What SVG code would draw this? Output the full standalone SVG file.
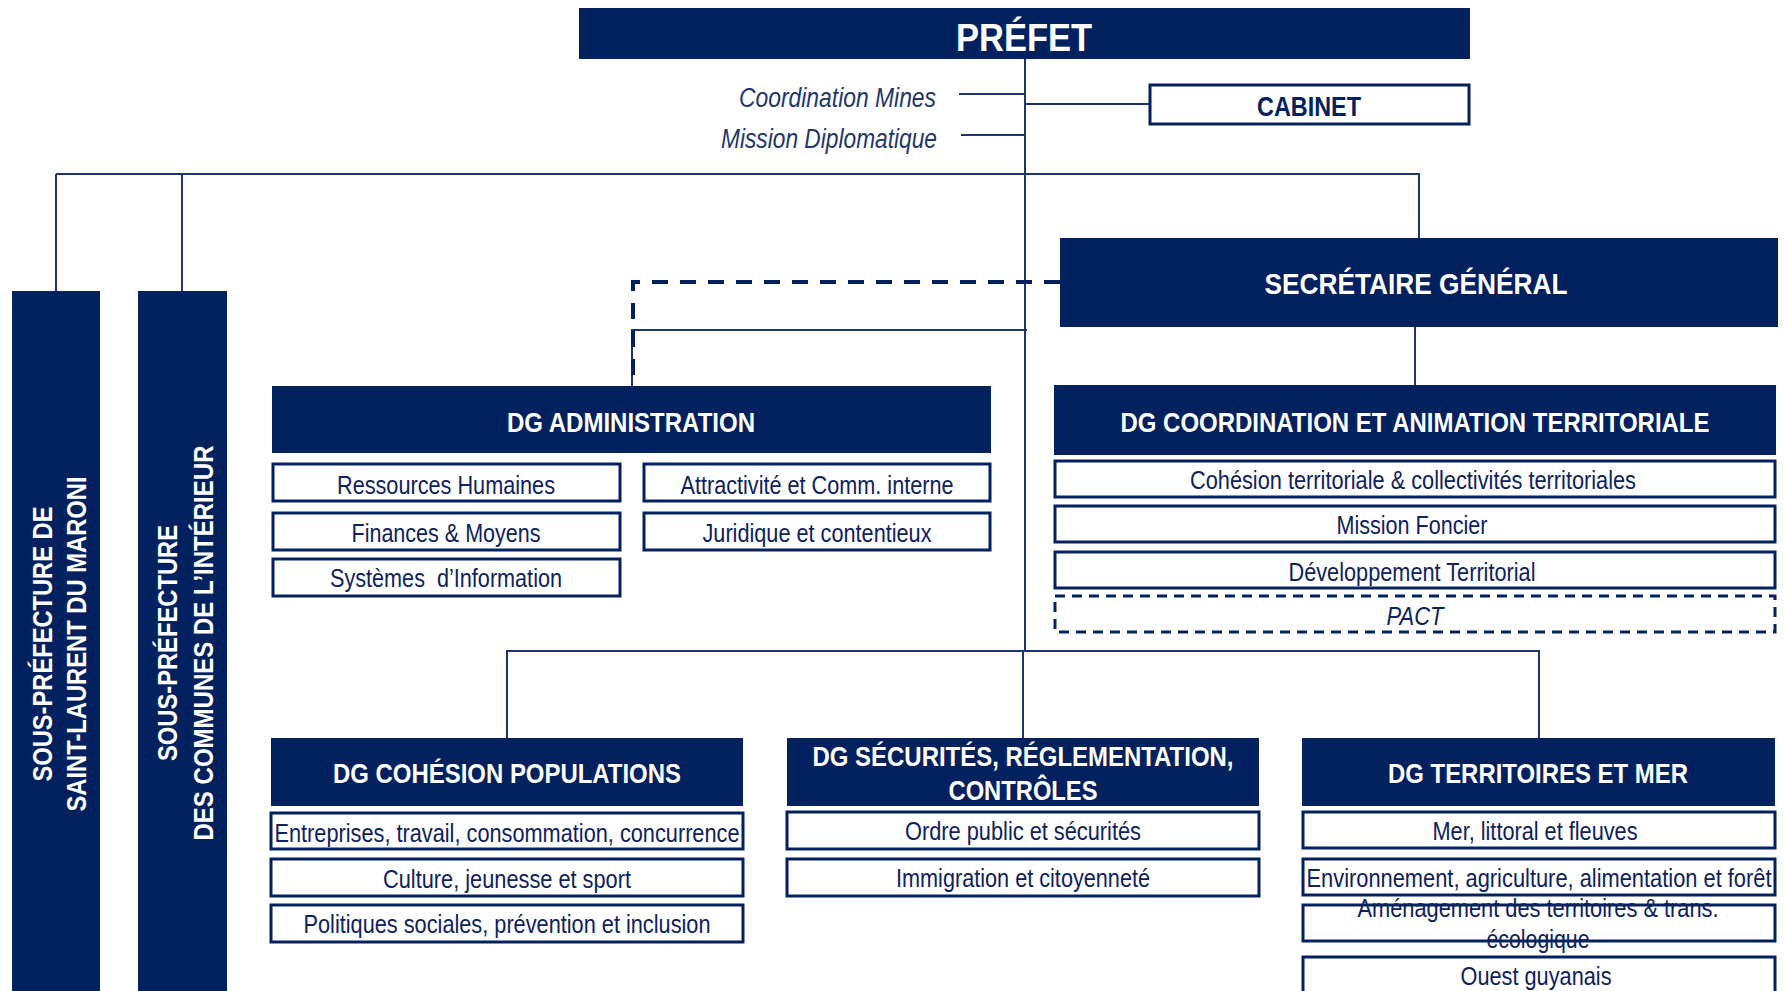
<svg xmlns="http://www.w3.org/2000/svg" width="1784" height="991" viewBox="0 0 1784 991">
<style>
.dark{fill:#03215e;}
.sub{fill:#ffffff;stroke:#03215e;stroke-width:3;}
.dsub{fill:#ffffff;stroke:#03215e;stroke-width:3;stroke-dasharray:10 7;}
.ht{font-family:"Liberation Sans",Arial,sans-serif;font-weight:bold;fill:#ffffff;text-anchor:middle;}
.st{font-family:"Liberation Sans",Arial,sans-serif;font-size:25px;fill:#0e225e;text-anchor:middle;}
.it{font-family:"Liberation Sans",Arial,sans-serif;font-style:italic;font-size:27px;fill:#23366b;}
.ln{fill:none;stroke:#1c356f;stroke-width:2;}
.dl{fill:none;stroke:#03215e;stroke-width:4;stroke-dasharray:16 12;}
</style>
<g id="connectors">
<path class="ln" d="M1025 59 V651"/>
<path class="ln" d="M959 94 H1025"/>
<path class="ln" d="M961 135 H1025"/>
<path class="ln" d="M1025 104 H1150"/>
<path class="ln" d="M56 174 H1419 V238"/>
<path class="ln" d="M56 174 V291"/>
<path class="ln" d="M182 174 V291"/>
<path class="ln" d="M1027 330 H632 V386"/>
<path class="dl" d="M1060 282 H633 V384"/>
<path class="ln" d="M1415 327 V385"/>
<path class="ln" d="M507 738 V651 H1539 V738"/>
<path class="ln" d="M1023 651 V738"/>
</g>
<g id="prefet">
<rect class="dark" x="579" y="8" width="891" height="51"/>
<text class="ht" x="1024" y="51" font-size="39" textLength="136" lengthAdjust="spacingAndGlyphs">PRÉFET</text>
</g>
<g id="coordination-mines">
<text class="it" x="936" y="107" text-anchor="end" textLength="197" lengthAdjust="spacingAndGlyphs">Coordination Mines</text>
</g>
<g id="mission-diplomatique">
<text class="it" x="937" y="148" text-anchor="end" textLength="216" lengthAdjust="spacingAndGlyphs">Mission Diplomatique</text>
</g>
<g id="cabinet">
<rect x="1150" y="85" width="319" height="39" fill="#fff" stroke="#03215e" stroke-width="3"/>
<text class="ht" x="1309" y="116" font-size="27" style="fill:#03215e" textLength="104" lengthAdjust="spacingAndGlyphs">CABINET</text>
</g>
<g id="sp-saint-laurent">
<rect class="dark" x="12" y="291" width="88" height="710"/>
<g transform="translate(56,644) rotate(-90)">
<text class="ht" x="0" y="-4" font-size="28" textLength="275" lengthAdjust="spacingAndGlyphs">SOUS-PRÉFECTURE DE</text>
<text class="ht" x="0" y="30" font-size="28" textLength="335" lengthAdjust="spacingAndGlyphs">SAINT-LAURENT DU MARONI</text>
</g>
</g>
<g id="sp-interieur">
<rect class="dark" x="138" y="291" width="89" height="710"/>
<g transform="translate(182,643) rotate(-90)">
<text class="ht" x="0" y="-5" font-size="28" textLength="236" lengthAdjust="spacingAndGlyphs">SOUS-PRÉFECTURE</text>
<text class="ht" x="0" y="31" font-size="28" textLength="395" lengthAdjust="spacingAndGlyphs">DES COMMUNES DE L’INTÉRIEUR</text>
</g>
</g>
<g id="secretaire-general">
<rect class="dark" x="1060" y="238" width="718" height="89"/>
<text class="ht" x="1416" y="294" font-size="30" textLength="303" lengthAdjust="spacingAndGlyphs">SECRÉTAIRE GÉNÉRAL</text>
</g>
<g id="dg-administration">
<rect class="dark" x="272" y="386" width="719" height="67"/>
<text class="ht" x="631" y="432" font-size="28" textLength="248" lengthAdjust="spacingAndGlyphs">DG ADMINISTRATION</text>
<rect class="sub" x="273" y="464" width="347" height="37"/>
<text class="st" x="446" y="494" textLength="218" lengthAdjust="spacingAndGlyphs">Ressources Humaines</text>
<rect class="sub" x="644" y="464" width="346" height="37"/>
<text class="st" x="817" y="494" textLength="273" lengthAdjust="spacingAndGlyphs">Attractivité et Comm. interne</text>
<rect class="sub" x="273" y="513" width="347" height="37"/>
<text class="st" x="446" y="542" textLength="189" lengthAdjust="spacingAndGlyphs">Finances &amp; Moyens</text>
<rect class="sub" x="644" y="513" width="346" height="37"/>
<text class="st" x="817" y="542" textLength="229" lengthAdjust="spacingAndGlyphs">Juridique et contentieux</text>
<rect class="sub" x="273" y="559" width="347" height="37"/>
<text class="st" x="446" y="587" style="white-space:pre" textLength="232" lengthAdjust="spacingAndGlyphs">Systèmes  d’Information</text>
</g>
<g id="dg-coordination">
<rect class="dark" x="1054" y="385" width="722" height="70"/>
<text class="ht" x="1415" y="432" font-size="28" textLength="589" lengthAdjust="spacingAndGlyphs">DG COORDINATION ET ANIMATION TERRITORIALE</text>
<rect class="sub" x="1055" y="461" width="720" height="36"/>
<text class="st" x="1413" y="489" textLength="446" lengthAdjust="spacingAndGlyphs">Cohésion territoriale &amp; collectivités territoriales</text>
<rect class="sub" x="1055" y="506" width="720" height="36"/>
<text class="st" x="1412" y="534" textLength="151" lengthAdjust="spacingAndGlyphs">Mission Foncier</text>
<rect class="sub" x="1055" y="552" width="720" height="36"/>
<text class="st" x="1412" y="581" textLength="247" lengthAdjust="spacingAndGlyphs">Développement Territorial</text>
<rect class="dsub" x="1055" y="596" width="720" height="36"/>
<text class="st" x="1415" y="625" font-style="italic" textLength="57" lengthAdjust="spacingAndGlyphs">PACT</text>
</g>
<g id="dg-cohesion-populations">
<rect class="dark" x="271" y="738" width="472" height="68"/>
<text class="ht" x="507" y="783" font-size="28" textLength="348" lengthAdjust="spacingAndGlyphs">DG COHÉSION POPULATIONS</text>
<rect class="sub" x="271" y="813" width="472" height="36"/>
<text class="st" x="507" y="842" textLength="465" lengthAdjust="spacingAndGlyphs">Entreprises, travail, consommation, concurrence</text>
<rect class="sub" x="271" y="859" width="472" height="37"/>
<text class="st" x="507" y="888" textLength="248" lengthAdjust="spacingAndGlyphs">Culture, jeunesse et sport</text>
<rect class="sub" x="271" y="905" width="472" height="37"/>
<text class="st" x="507" y="933" textLength="407" lengthAdjust="spacingAndGlyphs">Politiques sociales, prévention et inclusion</text>
</g>
<g id="dg-securites">
<rect class="dark" x="787" y="738" width="472" height="68"/>
<text class="ht" x="1023" y="766" font-size="28" textLength="421" lengthAdjust="spacingAndGlyphs">DG SÉCURITÉS, RÉGLEMENTATION,</text>
<text class="ht" x="1023" y="800" font-size="28" textLength="149" lengthAdjust="spacingAndGlyphs">CONTRÔLES</text>
<rect class="sub" x="787" y="812" width="472" height="37"/>
<text class="st" x="1023" y="840" textLength="236" lengthAdjust="spacingAndGlyphs">Ordre public et sécurités</text>
<rect class="sub" x="787" y="859" width="472" height="37"/>
<text class="st" x="1023" y="887" textLength="254" lengthAdjust="spacingAndGlyphs">Immigration et citoyenneté</text>
</g>
<g id="dg-territoires-mer">
<rect class="dark" x="1302" y="738" width="473" height="68"/>
<text class="ht" x="1538" y="783" font-size="28" textLength="300" lengthAdjust="spacingAndGlyphs">DG TERRITOIRES ET MER</text>
<rect class="sub" x="1303" y="812" width="472" height="36"/>
<text class="st" x="1535" y="840" textLength="205" lengthAdjust="spacingAndGlyphs">Mer, littoral et fleuves</text>
<rect class="sub" x="1303" y="859" width="472" height="36"/>
<text class="st" x="1539" y="887" textLength="465" lengthAdjust="spacingAndGlyphs">Environnement, agriculture, alimentation et forêt</text>
<rect class="sub" x="1303" y="905" width="472" height="36"/>
<text class="st" x="1538" y="917" textLength="361" lengthAdjust="spacingAndGlyphs">Aménagement des territoires &amp; trans.</text>
<text class="st" x="1538" y="948" textLength="103" lengthAdjust="spacingAndGlyphs">écologique</text>
<rect class="sub" x="1303" y="957" width="472" height="50"/>
<text class="st" x="1536" y="985" textLength="151" lengthAdjust="spacingAndGlyphs">Ouest guyanais</text>
</g>
</svg>
